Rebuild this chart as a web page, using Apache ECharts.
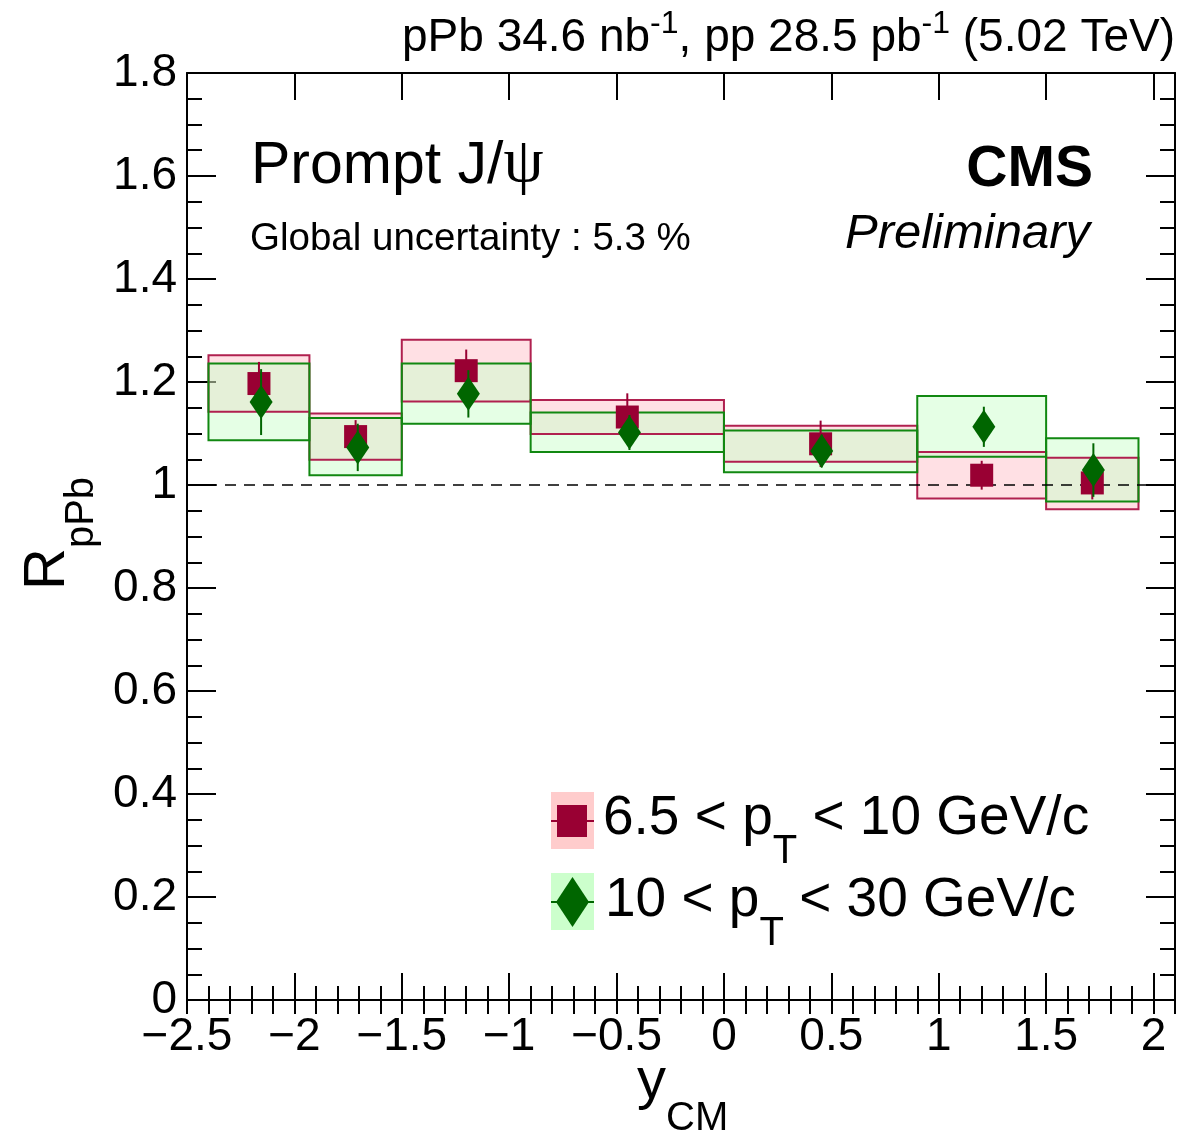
<!DOCTYPE html>
<html><head><meta charset="utf-8">
<script src="https://cdn.jsdelivr.net/npm/echarts@6/dist/echarts.min.js"></script>
<style>html,body{margin:0;padding:0;background:#fff}#c{width:1198px;height:1135px}</style>
</head><body><div id="c"></div>
<script>
// ---------------- data ----------------
const binLo = [-2.4, -1.93, -1.5, -0.9, 0.0, 0.9, 1.5];
const binHi = [-1.93, -1.5, -0.9, 0.0, 0.9, 1.5, 1.93];
// low pT: 6.5 < pT < 10 GeV/c
const xLow = [-2.165, -1.715, -1.2, -0.45, 0.45, 1.2, 1.715];
const rLow = [1.197, 1.094, 1.222, 1.132, 1.080, 1.019, 1.004];
const statLow = [0.042, 0.032, 0.041, 0.046, 0.045, 0.028, 0.032];
const systLowMin = [1.142, 1.049, 1.162, 1.099, 1.045, 0.974, 0.953];
const systLowMax = [1.252, 1.139, 1.282, 1.165, 1.115, 1.064, 1.053];
// high pT: 10 < pT < 30 GeV/c
const xHigh = [-2.155, -1.705, -1.19, -0.44, 0.455, 1.21, 1.72];
const rHigh = [1.161, 1.073, 1.177, 1.102, 1.066, 1.113, 1.029];
const statHigh = [0.064, 0.046, 0.046, 0.034, 0.032, 0.039, 0.052];
const systHighMin = [1.087, 1.019, 1.119, 1.064, 1.025, 1.055, 0.968];
const systHighMax = [1.236, 1.130, 1.236, 1.141, 1.106, 1.173, 1.091];
// axes
const xTickValues = [-2.5, -2, -1.5, -1, -0.5, 0, 0.5, 1, 1.5, 2];
const xTickLabels = ['\u22122.5', '\u22122', '\u22121.5', '\u22121', '\u22120.5', '0', '0.5', '1', '1.5', '2'];
const yTickValues = [0, 0.2, 0.4, 0.6, 0.8, 1, 1.2, 1.4, 1.6, 1.8];
const yTickLabels = ['0', '0.2', '0.4', '0.6', '0.8', '1', '1.2', '1.4', '1.6', '1.8'];
const X_MIN = -2.5, X_MAX = 2.1, Y_MIN = 0, Y_MAX = 1.8;

// ---------------- styles ----------------
const FONT = 'Liberation Sans';
const RED = '#990033', GREEN = '#006600';
const RED_EDGE = '#b0204f', GREEN_EDGE = '#118811';
const RED_FILL = 'rgba(255,0,30,0.12)', GREEN_FILL = 'rgba(203,255,203,0.5)';

function lookup(vals, labels, v) {
  for (let i = 0; i < vals.length; i++) if (Math.abs(vals[i] - v) < 1e-6) return labels[i];
  return '';
}

const ctx = document.createElement('canvas').getContext('2d');
function tw(t, size, fam, weight, style) {
  ctx.font = (style || 'normal') + ' ' + (weight || 'normal') + ' ' + size + 'px "' + (fam || FONT) + '"';
  return ctx.measureText(t).width;
}
// place a run of text pieces along a baseline
function run(x0, base, parts, anchor) {
  const ws = parts.map(p => tw(p.t, p.size, p.fam, p.weight, p.style));
  const total = ws.reduce((a, b) => a + b, 0);
  let x = anchor === 'right' ? x0 - total : x0;
  return parts.map((p, i) => {
    const el = {
      type: 'text', x: x, y: base + (p.dy || 0) - 0.35 * p.size, silent: true,
      style: {
        text: p.t, fontSize: p.size, fontFamily: p.fam || FONT, fontWeight: p.weight || 'normal',
        fontStyle: p.style || 'normal', fill: '#000', align: 'left', verticalAlign: 'middle'
      }
    };
    x += ws[i];
    return el;
  });
}

function boxRender(fill, stroke) {
  return function (params, api) {
    const p1 = api.coord([api.value(0), api.value(3)]);
    const p2 = api.coord([api.value(1), api.value(2)]);
    return {
      type: 'rect',
      shape: { x: p1[0], y: p1[1], width: p2[0] - p1[0], height: p2[1] - p1[1] },
      style: { fill: fill || 'none', stroke: stroke || 'none', lineWidth: 2 }
    };
  };
}
function errRender(color) {
  return function (params, api) {
    const a = api.coord([api.value(0), api.value(1)]);
    const b = api.coord([api.value(0), api.value(2)]);
    return { type: 'line', shape: { x1: a[0], y1: a[1], x2: b[0], y2: b[1] }, style: { stroke: color, lineWidth: 2 } };
  };
}

const lowBoxes = binLo.map((lo, i) => [lo, binHi[i], systLowMin[i], systLowMax[i]]);
const highBoxes = binLo.map((lo, i) => [lo, binHi[i], systHighMin[i], systHighMax[i]]);
const lowErr = xLow.map((x, i) => [x, rLow[i] - statLow[i], rLow[i] + statLow[i]]);
const highErr = xHigh.map((x, i) => [x, rHigh[i] - statHigh[i], rHigh[i] + statHigh[i]]);
const lowPts = xLow.map((x, i) => [x, rLow[i]]);
const highPts = xHigh.map((x, i) => [x, rHigh[i]]);

const axisLine = { show: true, onZero: false, lineStyle: { color: '#000', width: 2 } };
function xAx(pos, major) {
  return {
    type: 'value', position: pos, min: X_MIN, max: X_MAX, interval: major ? 0.5 : 0.1,
    axisLine: major ? axisLine : { show: false },
    axisTick: { show: true, inside: true, length: major ? 27 : 14, lineStyle: { color: '#000', width: 2 } },
    axisLabel: (major && pos === 'bottom') ? {
      show: true, margin: 14, fontSize: 46, fontFamily: FONT, color: '#000',
      showMaxLabel: false, formatter: v => lookup(xTickValues, xTickLabels, v)
    } : { show: false },
    splitLine: { show: false }
  };
}
function yAx(pos) {
  return {
    type: 'value', position: pos, min: Y_MIN, max: Y_MAX, interval: 0.2,
    axisLine: axisLine,
    axisTick: { show: true, inside: true, length: 29, lineStyle: { color: '#000', width: 2 } },
    minorTick: { show: true, splitNumber: 4, length: 15, lineStyle: { color: '#000', width: 2 } },
    axisLabel: pos === 'left' ? {
      show: true, margin: 10, fontSize: 46, fontFamily: FONT, color: '#000',
      formatter: v => lookup(yTickValues, yTickLabels, v)
    } : { show: false },
    splitLine: { show: false }
  };
}

const graphics = [].concat(
  run(1175, 54, [
    { t: 'pPb 34.6 nb', size: 46 }, { t: '-1', size: 32, dy: -19 },
    { t: ', pp 28.5 pb', size: 46 }, { t: '-1', size: 32, dy: -19 },
    { t: ' (5.02 TeV)', size: 46 }
  ], 'right'),
  run(251, 187, [{ t: 'Prompt J/', size: 59 }, { t: '\u03C8', size: 64, fam: 'Liberation Serif' }]),
  run(250, 253, [{ t: 'Global uncertainty : 5.3 %', size: 38.5 }]),
  run(1093, 190, [{ t: 'CMS', size: 57, weight: 'bold' }], 'right'),
  run(1090, 252, [{ t: 'Preliminary', size: 49, style: 'italic' }], 'right'),
  run(603, 838, [{ t: '6.5 < p', size: 55 }, { t: 'T', size: 40, dy: 28 }, { t: ' < 10 GeV/c', size: 55 }]),
  run(605, 920, [{ t: '10 < p', size: 55 }, { t: 'T', size: 40, dy: 28 }, { t: ' < 30 GeV/c', size: 55 }]),
  run(637, 1102, [{ t: 'y', size: 58 }, { t: 'CM', size: 40, dy: 31 }]),
  [
    { type: 'group', x: 68, y: 590, rotation: Math.PI / 2, children: run(0, 0, [{ t: 'R', size: 58 }, { t: 'pPb', size: 40, dy: 28 }]) },
    // legend boxes
    { type: 'rect', shape: { x: 551, y: 792, width: 43, height: 57 }, style: { fill: '#ffcccc' }, silent: true },
    { type: 'line', shape: { x1: 551, y1: 821, x2: 594, y2: 821 }, style: { stroke: RED, lineWidth: 2 }, silent: true },
    { type: 'rect', shape: { x: 557, y: 805, width: 30, height: 32 }, style: { fill: RED }, silent: true },
    { type: 'rect', shape: { x: 551, y: 873, width: 43, height: 57 }, style: { fill: '#ccffcc' }, silent: true },
    { type: 'line', shape: { x1: 551, y1: 902, x2: 594, y2: 902 }, style: { stroke: GREEN, lineWidth: 2 }, silent: true },
    { type: 'polygon', shape: { points: [[572.5, 877], [589, 902], [572.5, 927], [556, 902]] }, style: { fill: GREEN }, silent: true }
  ]
);

const boxEnc = { x: [0, 1], y: [2, 3] };
const chart = echarts.init(document.getElementById('c'), null, { renderer: 'canvas' });
chart.setOption({
  animation: false,
  backgroundColor: '#fff',
  grid: { left: 187, right: 23, top: 73, bottom: 135, containLabel: false },
  xAxis: [xAx('bottom', true), xAx('bottom', false), xAx('top', true), xAx('top', false)],
  yAxis: [yAx('left'), yAx('right')],
  series: [
    { type: 'custom', name: 'syst low fill', renderItem: boxRender(RED_FILL, null), data: lowBoxes, encode: boxEnc, z: 1 },
    { type: 'custom', name: 'syst high fill', renderItem: boxRender(GREEN_FILL, null), data: highBoxes, encode: boxEnc, z: 2 },
    { type: 'custom', name: 'syst low edge', renderItem: boxRender(null, RED_EDGE), data: lowBoxes, encode: boxEnc, z: 3 },
    { type: 'custom', name: 'syst high edge', renderItem: boxRender(null, GREEN_EDGE), data: highBoxes, encode: boxEnc, z: 4 },
    { type: 'custom', name: 'stat low', renderItem: errRender(RED), data: lowErr, encode: { x: 0, y: [1, 2] }, z: 5 },
    {
      type: 'scatter', name: '6.5 < pT < 10 GeV/c', data: lowPts, symbol: 'rect', symbolSize: 23,
      itemStyle: { color: RED, opacity: 1 }, z: 6,
      markLine: {
        silent: true, symbol: 'none', label: { show: false }, animation: false,
        lineStyle: { color: '#000', type: [11, 8], width: 1.5 }, data: [{ yAxis: 1 }]
      }
    },
    { type: 'custom', name: 'stat high', renderItem: errRender(GREEN), data: highErr, encode: { x: 0, y: [1, 2] }, z: 7 },
    {
      type: 'scatter', name: '10 < pT < 30 GeV/c', data: highPts, symbol: 'diamond', symbolSize: [23, 34],
      itemStyle: { color: GREEN, opacity: 1 }, z: 8
    }
  ],
  graphic: graphics
});
</script>
</body></html>
